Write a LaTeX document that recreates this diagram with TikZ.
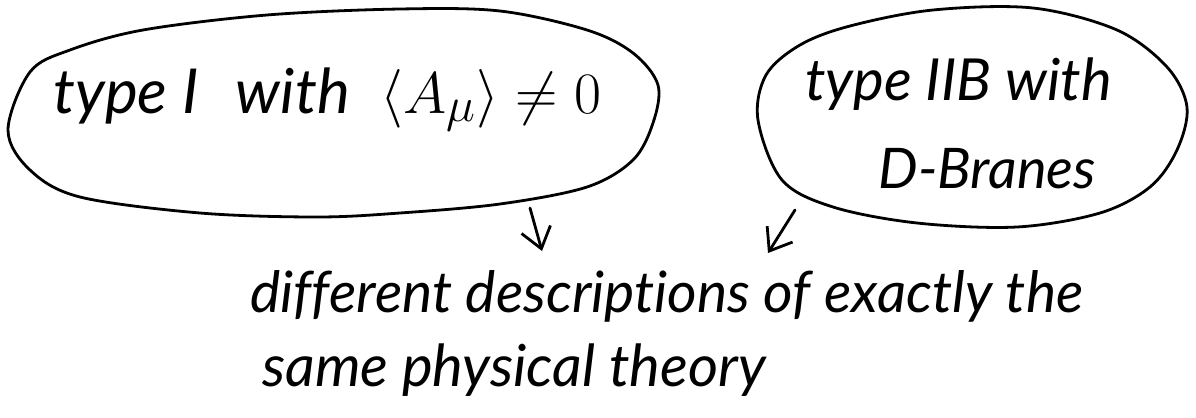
\documentclass[tikz,border=0pt]{standalone}
\usepackage{fontspec}
\setmainfont{Lato}[Ligatures=NoCommon]
\usetikzlibrary{arrows.meta}

\begin{document}
\begin{tikzpicture}[x=0.5pt, y=-0.5pt, >={Straight Barb[length=10pt, width=15pt]},
  outline/.style={line width=1.4pt, line join=round, line cap=round},
  scribble/.style={anchor=base west, inner sep=0pt, font=\itshape\fontsize{29}{32}\selectfont}]
  \useasboundingbox (0,0) rectangle (1196,418);

  % Left bubble
  \draw[outline] plot[smooth cycle, tension=0.55] coordinates {
    (8,130) (30,72) (70,50) (143,30) (267,15) (400,9) (500,11) (587,30)
    (633,53) (658,85) (653,123) (633,160) (587,187) (500,204) (400,213)
    (317,217) (200,213) (80,197) (30,170)};
  \node[scribble, font=\itshape\fontsize{31}{34}\selectfont] (typeone) at (53,113)
    {type I\hspace{0.6em}with\hspace{0.5em}\scalebox{1.18}{$\langle A_\mu\rangle \neq 0$}};

  % Right bubble
  \draw[outline] plot[smooth cycle, tension=0.55] coordinates {
    (758,120) (766,75) (800,45) (850,26) (933,10) (1033,8) (1117,30)
    (1167,67) (1187,107) (1177,150) (1150,187) (1100,213) (1017,227)
    (917,223) (833,207) (782,180)};
  \node[scribble] (typetwo) at (805,100) {type IIB with};
  \node[scribble, font=\itshape\fontsize{28}{31}\selectfont] (branes) at (878,188) {D-Branes};

  % Common statement
  \node[scribble, font=\itshape\fontsize{28.5}{31}\selectfont] (same) at (250,312) {different descriptions of exactly the};
  \node[scribble] (theory) at (262,386) {same physical theory};

  % Arrows
  \coordinate (fromone) at (530,208);
  \coordinate (toone) at (542,251);
  \coordinate (fromtwo) at (795,210);
  \coordinate (totwo) at (768,253);
  \draw[outline, ->] (fromone) -- (toone);
  \draw[outline, ->] (fromtwo) -- (totwo);
\end{tikzpicture}
\end{document}
